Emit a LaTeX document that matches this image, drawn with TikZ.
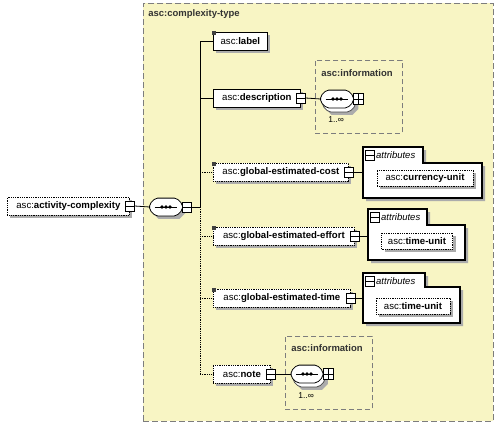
\documentclass[tikz,border=0pt]{standalone}
\usepackage{fontspec}
\setmainfont{Liberation Sans}
\usetikzlibrary{shadows}
\definecolor{frameY}{RGB}{248,245,196}
\definecolor{shadowG}{RGB}{172,172,172}
\definecolor{dashG}{RGB}{125,125,125}

\newcommand\seqpoly[4]{\path[#1] ([xshift=6pt+#3,yshift=#4]#2.north west) -- ([xshift=-6pt+#3,yshift=#4]#2.north east) -- ([xshift=#3,yshift=3pt+#4]#2.east) -- ([xshift=#3,yshift=-3pt+#4]#2.east) -- ([xshift=-6pt+#3,yshift=#4]#2.south east) -- ([xshift=6pt+#3,yshift=#4]#2.south west) -- ([xshift=#3,yshift=-3pt+#4]#2.west) -- ([xshift=#3,yshift=3pt+#4]#2.west) -- cycle;}
\newcommand\seqdots[1]{\draw[line width=0.9pt] ([xshift=5pt]#1.west) -- ([xshift=-5pt]#1.east); \fill (#1.center) circle (1.8pt) ([xshift=-4pt]#1.center) circle (1.8pt) ([xshift=4pt]#1.center) circle (1.8pt);}
\newcommand\attrpoly[7]{\path[#1] (#2,#3) -- (#4,#3) -- (#4,#5) -- (#6,#5) -- (#6,#7) -- (#2,#7) -- cycle;}

\begin{document}
\begin{tikzpicture}[x=1pt,y=-1pt, line width=0.8pt,
 lbl/.style={font=\fontsize{9.6}{11}\selectfont},
 elem/.style={draw=black, fill=white, lbl, minimum height=18pt, inner sep=0pt, anchor=west,
   drop shadow={shadow xshift=3pt, shadow yshift=-3pt, fill=shadowG, opacity=1, draw=none}},
 optelem/.style={elem, densely dotted},
 attel/.style={elem, densely dotted, minimum height=16pt, anchor=center},
 mbox/.style={draw=black, fill=white, solid, minimum width=9pt, minimum height=10pt, inner sep=0pt,
   path picture={\draw[line width=0.7pt] (path picture bounding box.west) -- (path picture bounding box.east);}},
 pbox/.style={draw=black, fill=white, solid, minimum width=10pt, minimum height=11pt, inner sep=0pt,
   path picture={\draw[line width=0.7pt] (path picture bounding box.west) -- (path picture bounding box.east) (path picture bounding box.north) -- (path picture bounding box.south);}},
 seqanchor/.style={minimum width=32pt, minimum height=17pt, inner sep=0pt},
 infobox/.style={draw=dashG, dash pattern=on 5pt off 3pt, minimum width=87pt, minimum height=73pt, anchor=north west, inner sep=0pt},
 title/.style={font=\fontsize{9.5}{11}\selectfont\bfseries, text=black!80, anchor=west, inner sep=0pt},
 attrtxt/.style={font=\fontsize{9.5}{11}\selectfont\itshape, anchor=west, inner sep=1pt},
 mult/.style={font=\fontsize{8.5}{9}\selectfont, anchor=west, inner sep=0pt}
]
\useasboundingbox (0,0) rectangle (498,423);
\fill[white] (0,0) rectangle (498,423);

% complex type frame
\node[draw=dashG, fill=frameY, dash pattern=on 6pt off 3pt, minimum width=350pt, minimum height=418pt, anchor=north west, inner sep=0pt] (ctype) at (143,3) {};
\node[title] (ctypet) at (148,14) {asc:complexity-type};

% information groups
\node[infobox] (inf1) at (315,60) {};
\node[title] (inf1t) at (321,73) {asc:information};
\node[infobox] (inf2) at (285,336) {};
\node[title] (inf2t) at (291,348) {asc:information};

% attribute boxes
\begin{scope}[shift={(3,3)}]
\attrpoly{fill=shadowG}{363}{147}{423}{163}{482}{198}
\attrpoly{fill=shadowG}{368}{209}{427}{225}{465}{260}
\attrpoly{fill=shadowG}{363}{273}{425}{287}{460}{323}
\end{scope}
\attrpoly{draw=black, fill=white, line width=1.1pt}{363}{147}{423}{163}{482}{198}
\attrpoly{draw=black, fill=white, line width=1.1pt}{368}{209}{427}{225}{465}{260}
\attrpoly{draw=black, fill=white, line width=1.1pt}{363}{273}{425}{287}{460}{323}
\node[mbox, anchor=north west] (at1m) at (365,150) {};
\node[attrtxt] (at1t) at (at1m.east) {attributes};
\node[mbox, anchor=north west] (at2m) at (370,212) {};
\node[attrtxt] (at2t) at (at2m.east) {attributes};
\node[mbox, anchor=north west] (at3m) at (365,276) {};
\node[attrtxt] (at3t) at (at3m.east) {attributes};
\coordinate (a1) at (363,172);
\coordinate (a2) at (368,236);
\coordinate (a3) at (363,298);

% bus coordinates
\coordinate (bT) at (200,41);
\coordinate (bM) at (200,207);
\coordinate (bB) at (200,374);

% nodes
\node[optelem, minimum width=122pt] (act) at (7,206) {asc:\textbf{activity-complexity}\hspace{6pt}};
\node[mbox] (actm) at (act.east) {};
\node[seqanchor] (seq) at (166,207) {};
\node[seqanchor] (s1) at (337,99) {};
\node[seqanchor, minimum width=31pt] (s2) at (307,374) {};

\node[elem, minimum width=54pt] (lab) at (213,41) {asc:\textbf{label}};
\node[elem, minimum width=87pt] (desc) at (213,98) {asc:\textbf{description}\hspace{6pt}};
\node[optelem, minimum width=135pt] (cost) at (213,172) {asc:\textbf{global-estimated-cost}\hspace{6pt}};
\node[optelem, minimum width=141pt] (eff) at (213,236) {asc:\textbf{global-estimated-effort}\hspace{6pt}};
\node[optelem, minimum width=137pt] (tim) at (213,298) {asc:\textbf{global-estimated-time}\hspace{6pt}};
\node[optelem, minimum width=57pt] (note) at (213,374) {asc:\textbf{note}\hspace{6pt}};
\node[mbox] (descm) at (desc.east) {};
\node[mbox] (costm) at (cost.east) {};
\node[mbox] (effm) at (eff.east) {};
\node[mbox] (timm) at (tim.east) {};
\node[mbox] (notem) at (note.east) {};
\foreach \n in {lab,cost,eff,tim}
  \fill[black!75] ([xshift=-1pt,yshift=1pt]\n.north west) rectangle ++(4,4);

\node[attel, minimum width=96pt] (cu) at (425,178) {asc:\textbf{currency-unit}};
\node[attel, minimum width=71pt] (tu1) at (417,241) {asc:\textbf{time-unit}};
\node[attel, minimum width=74pt] (tu2) at (413,306) {asc:\textbf{time-unit}};

% connectors
\draw (actm.east) -- (seq.west);
\draw (bT) -- (bM);
\draw[densely dotted] (bM) -- (bB);
\draw (bT) -- (lab.west);
\draw (desc.west -| bT) -- (desc.west);
\draw[densely dotted] (cost.west -| bT) -- (cost.west);
\draw[densely dotted] (eff.west -| bT) -- (eff.west);
\draw[densely dotted] (tim.west -| bT) -- (tim.west);
\draw[densely dotted] (bB) -- (note.west);
\draw (descm.east) -- (s1.west);
\draw (notem.east) -- (s2.west);
\draw (costm.east) -- (a1);
\draw (effm.east) -- (a2);
\draw (timm.east) -- (a3);

% compositors
\seqpoly{fill=shadowG}{seq}{3pt}{-3pt}
\seqpoly{draw=black, fill=white, rounded corners=2pt}{seq}{0pt}{0pt}
\seqdots{seq}
\node[mbox, anchor=west] (seqm) at (seq.east) {};
\draw (seqm.east) -- (bM);

\seqpoly{fill=shadowG}{s1}{5pt}{-7pt}
\seqpoly{draw=black!70, fill=white, rounded corners=2pt}{s1}{2pt}{-4pt}
\seqpoly{draw=black, fill=white, rounded corners=2pt}{s1}{0pt}{0pt}
\seqdots{s1}
\node[pbox, anchor=west] (s1p) at (s1.east) {};
\node[mult] (s1n) at (328,120) {1..∞};

\seqpoly{fill=shadowG}{s2}{5pt}{-7pt}
\seqpoly{draw=black!70, fill=white, rounded corners=2pt}{s2}{2pt}{-4pt}
\seqpoly{draw=black, fill=white, rounded corners=2pt}{s2}{0pt}{0pt}
\seqdots{s2}
\node[pbox, anchor=west] (s2p) at (s2.east) {};
\node[mult] (s2n) at (298,396) {1..∞};
\end{tikzpicture}
\end{document}
